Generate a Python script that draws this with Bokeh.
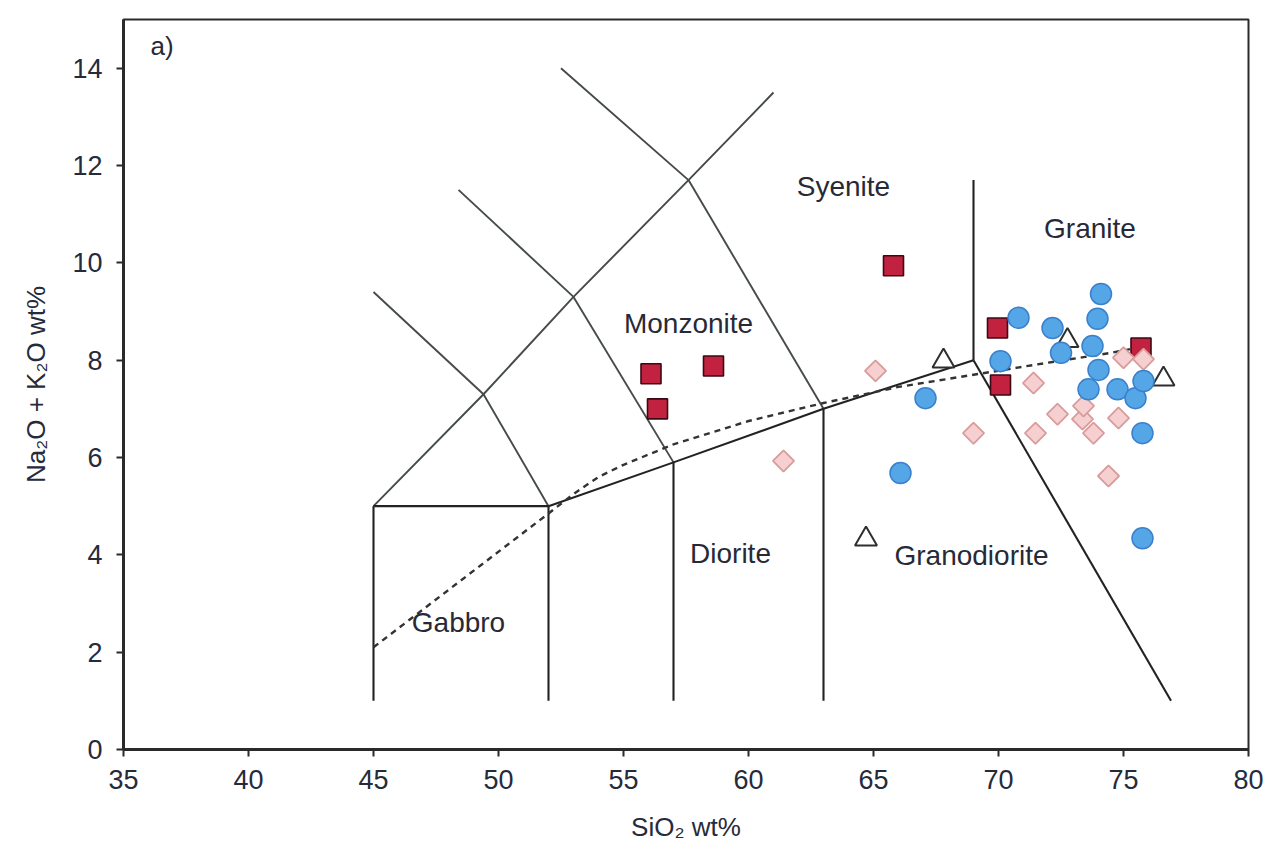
import math
from bokeh.plotting import figure
from bokeh.models import FixedTicker, Range1d
from bokeh.core.properties import value
from bokeh.embed import file_html
from bokeh.resources import INLINE

# ---- axes -------------------------------------------------------------
x_ticks = [35, 40, 45, 50, 55, 60, 65, 70, 75, 80]
y_ticks = [0, 2, 4, 6, 8, 10, 12, 14]

# ---- TAS field boundaries (SiO2, Na2O+K2O) ---------------------------
# grey upper-field boundaries
upper_xs = [
    [45, 49.4, 52],
    [49.4, 45],
    [49.4, 53, 57.6, 61],
    [53, 48.4],
    [53, 57],
    [57.6, 52.5],
    [57.6, 63],
]
upper_ys = [
    [5, 7.3, 5],
    [7.3, 9.4],
    [7.3, 9.3, 11.7, 13.5],
    [9.3, 11.5],
    [9.3, 5.9],
    [11.7, 14],
    [11.7, 7],
]
# dark lower-field boundaries
lower_xs = [
    [45, 45], [52, 52], [57, 57], [63, 63],
    [45, 52],
    [52, 57, 63, 69],
    [69, 69],
    [69, 76.9],
]
lower_ys = [
    [1, 5], [1, 5], [1, 5.9], [1, 7],
    [5, 5],
    [5, 5.9, 7, 8],
    [8, 11.7],
    [8, 1],
]
# alkaline / subalkaline divide
div_x = [45, 52, 53, 54, 55, 57, 60, 63, 66, 69, 72, 74.5, 76]
div_y = [2.1, 4.85, 5.25, 5.6, 5.85, 6.27, 6.75, 7.12, 7.45, 7.7, 7.95, 8.15, 8.3]

# ---- field names -----------------------------------------------------
field_names = ["Syenite", "Granite", "Monzonite", "Diorite", "Granodiorite", "Gabbro"]
field_x = [63.8, 73.66, 57.6, 59.28, 68.92, 48.4]
field_y = [11.56, 10.7, 8.75, 4.02, 3.98, 2.61]

# ---- samples ---------------------------------------------------------
sq_sio2 = [56.1, 56.36, 58.6, 65.8, 69.96, 70.08, 75.7]
sq_alk = [7.72, 7.0, 7.88, 9.94, 8.66, 7.49, 8.25]

dm_sio2 = [61.4, 65.08, 69.0, 71.4, 71.48, 72.36, 73.36, 73.4, 73.8, 74.8, 75.0, 75.8, 74.4]
dm_alk = [5.93, 7.78, 6.5, 7.53, 6.5, 6.89, 6.79, 7.06, 6.5, 6.81, 8.05, 8.02, 5.62]

tr_sio2 = [67.8, 72.76, 76.6, 64.7]
tr_alk = [7.98, 8.4, 7.61, 4.32]

ci_sio2 = [74.1, 73.96, 70.8, 72.16, 72.5, 73.76, 70.08, 74.0, 73.6, 74.76, 75.48,
           75.8, 75.76, 75.76, 67.08, 66.08]
ci_alk = [9.36, 8.85, 8.87, 8.66, 8.15, 8.29, 7.98, 7.8, 7.4, 7.4, 7.22,
          7.57, 6.5, 4.34, 7.22, 5.68]

FONT = "Liberation Sans"
TEXT_COLOR = "#272a36"

p = figure(
    width=1267, height=867,
    x_range=Range1d(35, 80), y_range=Range1d(0, 15),
    output_backend="svg", toolbar_location=None,
    min_border_left=123, min_border_right=19,
    min_border_top=19, min_border_bottom=118,
    background_fill_color="white", border_fill_color="white",
)
p.grid.visible = False
p.outline_line_color = "#2a2a2a"
p.outline_line_width = 2

for ax in (p.xaxis[0], p.yaxis[0]):
    ax.axis_line_color = "#2a2a2a"
    ax.axis_line_width = 3
    ax.major_tick_line_color = "#2a2a2a"
    ax.major_tick_line_width = 2
    ax.major_tick_out = 7
    ax.major_tick_in = 0
    ax.minor_tick_line_color = None
    ax.major_label_text_font = FONT
    ax.major_label_text_font_size = "27px"
    ax.major_label_text_color = "#262b3c"
    ax.axis_label_text_font = FONT
    ax.axis_label_text_font_size = "26px"
    ax.axis_label_text_font_style = "normal"
    ax.axis_label_text_color = "#262b3c"

p.xaxis.ticker = FixedTicker(ticks=x_ticks)
p.yaxis.ticker = FixedTicker(ticks=y_ticks)
p.xaxis.major_label_standoff = 13
p.yaxis.major_label_standoff = 14
p.xaxis.axis_label = "SiO\u2082 wt%"
p.yaxis.axis_label = "Na\u2082O + K\u2082O wt%"
p.xaxis.axis_label_standoff = 20
p.yaxis.axis_label_standoff = 18

# field boundaries
p.multi_line(upper_xs, upper_ys, line_color="#454b47", line_width=1.9)
p.multi_line(lower_xs, lower_ys, line_color="#222222", line_width=2.1)
p.line(div_x, div_y, line_color="#333333", line_width=2.4, line_dash="6 5")

# field names
p.text(x=field_x, y=field_y, text=field_names,
       text_font=value(FONT), text_font_size="28px", text_color=TEXT_COLOR,
       text_align="center", text_baseline="middle")
p.text(x=[36.08], y=[14.45], text=["a)"],
       text_font=value(FONT), text_font_size="26px", text_color=TEXT_COLOR,
       text_align="left", text_baseline="middle")

# samples
p.scatter(sq_sio2, sq_alk, marker="square", size=20,
          fill_color="#c2213f", line_color="#3a0a14", line_width=1.6)
p.scatter(dm_sio2, dm_alk, marker="square", size=15, angle=math.pi / 4,
          fill_color="#f6d0d0", line_color="#d99c9c", line_width=1.8)
p.scatter(tr_sio2, tr_alk, marker="triangle", size=22,
          fill_color="white", line_color="#2e2e2e", line_width=2)
p.scatter(ci_sio2, ci_alk, marker="circle", size=21,
          fill_color="#55a6e6", line_color="#3a80cc", line_width=1.5)

open("out.html", "w").write(file_html(p, INLINE))
